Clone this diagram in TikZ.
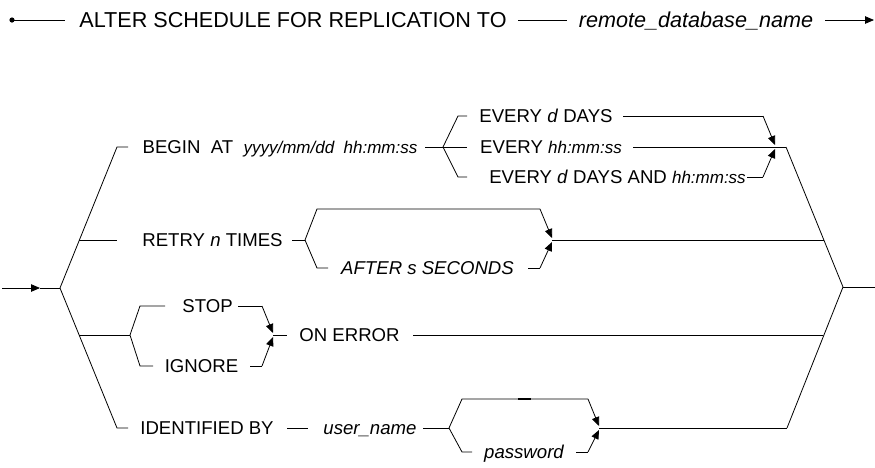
\documentclass[tikz,border=0pt]{standalone}
\usepackage{fontspec}
\setmainfont{Liberation Sans}
\usetikzlibrary{arrows.meta}
\begin{document}
\begin{tikzpicture}[x=1pt,y=-1pt,
  ln/.style={line width=0.8pt},
  ar/.style={line width=0.8pt,-{Triangle[length=9pt,width=7.5pt]}},
  big/.style={inner sep=0pt,anchor=base,font=\fontsize{21.6}{24}\selectfont},
  lbl/.style={inner sep=0pt,anchor=base,font=\fontsize{18.6}{20}\selectfont}]
\useasboundingbox (0,0) rectangle (875,467);
% ---------- top line
\coordinate (s0) at (12,20);
\coordinate (s1) at (65,20);
\coordinate (s2) at (518,20);
\coordinate (s3) at (567,20);
\coordinate (s4) at (825,20);
\coordinate (s5) at (874,20);
\fill (s0) circle (2.6pt);
\node[big] (t1) at (293,27.5) {ALTER SCHEDULE FOR REPLICATION TO};
\node[big,font=\fontsize{21.6}{24}\selectfont\itshape] (t2) at (696,27.5) {remote\_database\_name};
\draw[ln] (s0) -- (s1);
\draw[ln] (s2) -- (s3);
\draw[ar] (s4) -- (s5);
% ---------- entry and left fork
\coordinate (in0) at (2,288);
\coordinate (inA) at (40,288);
\coordinate (J0) at (60,288);
\coordinate (LT) at (117,147);
\coordinate (LT2) at (128,147);
\coordinate (LB) at (117,428);
\coordinate (LB2) at (128,428);
\coordinate (Lr) at (79.4,240);
\coordinate (Lr2) at (117,240);
\coordinate (Ls) at (79.2,335);
\coordinate (S) at (130,335);
\draw[ar] (in0) -- (inA);
\draw[ln] (inA) -- (J0);
\draw[ln] (LT2) -- (LT) -- (J0) -- (LB) -- (LB2);
\draw[ln] (Lr) -- (Lr2);
\draw[ln] (Ls) -- (S);
% ---------- BEGIN AT
\node[lbl] (begin) at (280,153.5) {BEGIN\ \ AT\ \ {\fontsize{17}{18}\selectfont\itshape yyyy/mm/dd\ \ hh:mm:ss}};
\coordinate (b0) at (425,147);
\coordinate (B) at (443,147);
\coordinate (B1) at (458,116);
\coordinate (B1e) at (467,116);
\coordinate (B2e) at (467,147);
\coordinate (B3) at (458,177);
\coordinate (B3e) at (467,177);
\draw[ln] (b0) -- (B);
\draw[ln] (B1e) -- (B1) -- (B) -- (B3) -- (B3e);
\draw[ln] (B) -- (B2e);
\node[lbl] (e1) at (546,122.5) {EVERY \textit{d} DAYS};
\node[lbl] (e2) at (551,153.5) {EVERY {\fontsize{17}{18}\selectfont\itshape hh:mm:ss}};
\node[lbl] (e3) at (617.5,183.5) {EVERY \textit{d} DAYS AND {\fontsize{17}{18}\selectfont\itshape hh:mm:ss}};
\coordinate (m1s) at (623,116);
\coordinate (M1) at (763,116);
\coordinate (Mt) at (775,145);
\coordinate (m2s) at (633,147);
\coordinate (Mm) at (786,147);
\coordinate (m3s) at (747,177);
\coordinate (M3) at (763,177);
\coordinate (Mb) at (775,149);
\draw[ln] (m1s) -- (M1);
\draw[ar] (M1) -- (Mt);
\draw[ln] (m2s) -- (Mm);
\draw[ln] (m3s) -- (M3);
\draw[ar] (M3) -- (Mb);
% ---------- right fork
\coordinate (RJ) at (843,287);
\coordinate (out) at (875,287);
\coordinate (RB) at (787,428);
\draw[ln] (Mm) -- (RJ) -- (RB);
\draw[ln] (RJ) -- (out);
% ---------- RETRY
\node[lbl] (retry) at (212.5,246.5) {RETRY \textit{n} TIMES};
\coordinate (r0) at (292,240);
\coordinate (R) at (305,240);
\coordinate (R1) at (317,209);
\coordinate (R1e) at (540,209);
\coordinate (Rt) at (552,238);
\coordinate (R2) at (317,268);
\coordinate (R2e) at (328,268);
\coordinate (r3s) at (528,268);
\coordinate (R3) at (540,268);
\coordinate (Rb) at (552,242);
\coordinate (Rm) at (552,240);
\coordinate (Rr) at (824,240);
\draw[ln] (r0) -- (R);
\draw[ln] (R) -- (R1) -- (R1e);
\draw[ar] (R1e) -- (Rt);
\draw[ln] (R) -- (R2) -- (R2e);
\node[lbl,font=\fontsize{18.6}{20}\selectfont\itshape] (after) at (427.5,274.5) {AFTER s SECONDS};
\draw[ln] (r3s) -- (R3);
\draw[ar] (R3) -- (Rb);
\draw[ln] (Rm) -- (Rr);
% ---------- STOP / IGNORE
\coordinate (S1) at (140,306);
\coordinate (S1e) at (165,306);
\coordinate (s2s) at (238,306);
\coordinate (S2) at (262,306);
\coordinate (St) at (273,333);
\coordinate (S3) at (140,366);
\coordinate (S3e) at (153,366);
\coordinate (s4s) at (250,366);
\coordinate (S4) at (262,366);
\coordinate (Sb) at (273,337);
\coordinate (Sm) at (273,335);
\coordinate (Sm2) at (287,335);
\coordinate (oe) at (413,335);
\coordinate (oe2) at (823,335);
\draw[ln] (S1e) -- (S1) -- (S) -- (S3) -- (S3e);
\node[lbl] (stop) at (207.5,312.5) {STOP};
\node[lbl] (ignore) at (201.5,372.5) {IGNORE};
\draw[ln] (s2s) -- (S2);
\draw[ar] (S2) -- (St);
\draw[ln] (s4s) -- (S4);
\draw[ar] (S4) -- (Sb);
\draw[ln] (Sm) -- (Sm2);
\node[lbl] (onerr) at (349.5,341.5) {ON ERROR};
\draw[ln] (oe) -- (oe2);
% ---------- IDENTIFIED BY
\node[lbl] (ident) at (207,434.5) {IDENTIFIED BY};
\coordinate (i1) at (287,428);
\coordinate (i2) at (308,428);
\node[lbl,font=\fontsize{18.6}{20}\selectfont\itshape] (user) at (370,434.5) {user\_name};
\coordinate (u1) at (423,428);
\coordinate (P) at (449,428);
\coordinate (P1) at (462,399);
\coordinate (P1e) at (588,399);
\coordinate (Pt) at (599,426);
\coordinate (P2) at (462,452);
\coordinate (P2e) at (472,452);
\coordinate (p3s) at (576,452);
\coordinate (P3) at (588,452);
\coordinate (Pb) at (599,430);
\coordinate (Pm) at (599,428);
\coordinate (tk1) at (518,399);
\coordinate (tk2) at (531,399);
\draw[ln] (i1) -- (i2);
\draw[ln] (u1) -- (P);
\draw[ln] (P) -- (P1) -- (P1e);
\draw[line width=1.1pt] (tk1) -- (tk2);
\draw[ar] (P1e) -- (Pt);
\draw[ln] (P) -- (P2) -- (P2e);
\node[lbl,font=\fontsize{18.6}{20}\selectfont\itshape] (pw) at (524,458.5) {password};
\draw[ln] (p3s) -- (P3);
\draw[ar] (P3) -- (Pb);
\draw[ln] (Pm) -- (RB);
\end{tikzpicture}
\end{document}
